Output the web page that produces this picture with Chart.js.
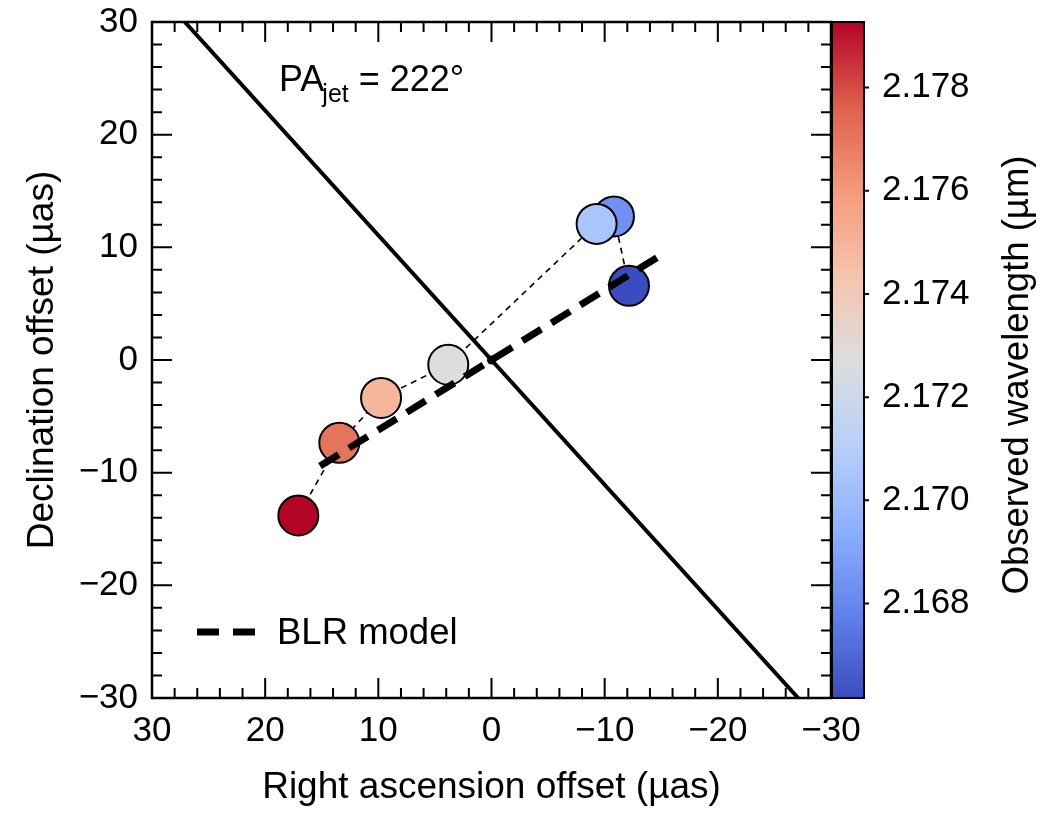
<!DOCTYPE html>
<html>
<head>
<meta charset="utf-8">
<script src="https://cdn.jsdelivr.net/npm/chart.js@4"></script>
<style>
  html, body { margin: 0; padding: 0; background: #fff; }
  #wrap { width: 1056px; height: 813px; position: relative; }
</style>
</head>
<body>
<div id="wrap"><canvas id="chart"></canvas></div>
<script>
// spectral channels, ordered blue -> red (red drawn last, on top)
const raOffset   = [-12.15, -10.82, -9.29, 3.82, 9.76, 13.45, 17.07];
const decOffset  = [6.58, 12.74, 12.08, -0.42, -3.37, -7.35, -13.8];
const wavelength = [2.16617, 2.16835, 2.17053, 2.17272, 2.17490, 2.17708, 2.17927];

// jet axis (PA 222 deg) and BLR model line
const jetRA  = [27.1, -27.1];
const jetDec = [30, -30];
const blrRA  = [15.15, -15.18];
const blrDec = [-9.41, 9.43];

const axisTicks = [-30, -20, -10, 0, 10, 20, 30];
const cbTicks = [2.168, 2.170, 2.172, 2.174, 2.176, 2.178];
const cbMin = 2.16617, cbMax = 2.17927;

const FONT = '"Liberation Sans", Arial, Helvetica, sans-serif';
Chart.defaults.font.family = FONT;
Chart.defaults.color = '#000';

// matplotlib coolwarm, sampled
const coolwarmStops = [
  [58, 76, 192], [98, 130, 234], [141, 176, 254], [184, 208, 249], [221, 221, 221],
  [245, 196, 173], [244, 154, 123], [222, 96, 77], [180, 4, 38]
];
function coolwarm(t) {
  t = Math.max(0, Math.min(1, t));
  const n = coolwarmStops.length - 1;
  const i = Math.min(n - 1, Math.floor(t * n));
  const f = t * n - i;
  const a = coolwarmStops[i], b = coolwarmStops[i + 1];
  const c = a.map((v, k) => Math.round(v + (b[k] - v) * f));
  return `rgb(${c[0]},${c[1]},${c[2]})`;
}

const toXY = (xs, ys) => xs.map((x, i) => ({ x, y: ys[i] }));
const minus = v => String(v).replace('-', '\u2212');
const fixBox = (w, h) => s => {
  if (w != null) s.width = w;
  if (h != null) s.height = h;
  s.paddingTop = s.paddingBottom = s.paddingLeft = s.paddingRight = 0;
};

// inward major/minor ticks on all four sides + frame
const framePlugin = {
  id: 'frame',
  afterDraw(chart) {
    const { ctx, chartArea: a, scales: { x, y } } = chart;
    ctx.save();
    ctx.strokeStyle = '#000';
    ctx.lineWidth = 2;
    ctx.beginPath();
    for (let v = -30; v <= 30; v += 2) {
      const len = v % 10 === 0 ? 20 : 10;
      const px = x.getPixelForValue(v);
      const py = y.getPixelForValue(v);
      ctx.moveTo(px, a.bottom); ctx.lineTo(px, a.bottom - len);
      ctx.moveTo(px, a.top);    ctx.lineTo(px, a.top + len);
      ctx.moveTo(a.left, py);   ctx.lineTo(a.left + len, py);
      ctx.moveTo(a.right, py);  ctx.lineTo(a.right - len, py);
    }
    ctx.stroke();
    ctx.lineWidth = 2.5;
    ctx.strokeRect(a.left, a.top, a.right - a.left, a.bottom - a.top);
    ctx.restore();
  }
};

// colorbar, PA label and legend
const extrasPlugin = {
  id: 'extras',
  afterDraw(chart) {
    const { ctx, chartArea: a, scales: { cb } } = chart;
    ctx.save();
    const x0 = a.right + 1, w = 32;
    const top = cb.getPixelForValue(cbMax), bot = cb.getPixelForValue(cbMin);
    const g = ctx.createLinearGradient(0, bot, 0, top);
    coolwarmStops.forEach((_, i) => {
      const t = i / (coolwarmStops.length - 1);
      g.addColorStop(t, coolwarm(t));
    });
    ctx.fillStyle = g;
    ctx.fillRect(x0, top, w, bot - top);
    ctx.strokeStyle = '#000';
    ctx.lineWidth = 2;
    ctx.strokeRect(x0, top, w, bot - top);
    ctx.beginPath();
    cbTicks.forEach(v => {
      const py = cb.getPixelForValue(v);
      ctx.moveTo(x0 + w, py); ctx.lineTo(x0 + w + 5, py);
    });
    ctx.stroke();

    // colorbar title, bottom-to-top
    ctx.fillStyle = '#000';
    ctx.font = `36.5px ${FONT}`;
    ctx.textAlign = 'center';
    ctx.textBaseline = 'middle';
    ctx.translate(1018, 375);
    ctx.rotate(-Math.PI / 2);
    ctx.fillText('Observed wavelength (\u00b5m)', 0, 0);
    ctx.setTransform(1, 0, 0, 1, 0, 0);

    // PA_jet label
    ctx.textAlign = 'left';
    ctx.textBaseline = 'alphabetic';
    ctx.font = `36px ${FONT}`;
    ctx.fillText('PA', 279, 91);
    let px = 279 + ctx.measureText('PA').width - 2;
    ctx.font = `25px ${FONT}`;
    ctx.fillText('jet', px, 102);
    px += ctx.measureText('jet').width;
    ctx.font = `36px ${FONT}`;
    ctx.fillText(' = 222\u00b0', px, 91);

    // legend
    ctx.lineWidth = 7;
    ctx.setLineDash([22, 14]);
    ctx.beginPath();
    ctx.moveTo(197, 632); ctx.lineTo(256, 632);
    ctx.stroke();
    ctx.setLineDash([]);
    ctx.textBaseline = 'middle';
    ctx.font = `36.5px ${FONT}`;
    ctx.fillText('BLR model', 277, 634);
    ctx.restore();
  }
};

new Chart(document.getElementById('chart'), {
  type: 'scatter',
  data: {
    datasets: [
      {
        label: 'BLR model',
        data: toXY(blrRA, blrDec),
        showLine: true, borderColor: '#000', borderWidth: 7, borderDash: [22, 12],
        pointRadius: 0, order: 0
      },
      {
        label: 'origin',
        data: [{ x: 0, y: 0 }],
        pointRadius: 4.5, backgroundColor: '#000', borderWidth: 0, order: 0
      },
      {
        label: 'channels',
        data: toXY(raOffset, decOffset),
        pointRadius: 20, borderWidth: 2, borderColor: '#000',
        backgroundColor: wavelength.map(w => coolwarm((w - cbMin) / (cbMax - cbMin))),
        order: 1
      },
      {
        label: 'jet',
        data: toXY(jetRA, jetDec),
        showLine: true, borderColor: '#000', borderWidth: 4, pointRadius: 0, order: 2
      },
      {
        label: 'path',
        data: toXY(raOffset, decOffset),
        showLine: true, borderColor: '#000', borderWidth: 1.6, borderDash: [6, 5],
        pointRadius: 0, order: 3
      }
    ]
  },
  options: {
    responsive: true,
    maintainAspectRatio: false,
    animation: false,
    layout: { padding: { top: 19 } },
    plugins: { legend: { display: false }, tooltip: { enabled: false } },
    scales: {
      x: {
        type: 'linear', min: -30, max: 30, reverse: true,
        grid: { display: false, drawTicks: false }, border: { display: false },
        afterBuildTicks: s => { s.ticks = axisTicks.map(v => ({ value: v })); },
        afterFit: fixBox(null, 115),
        ticks: { font: { size: 35 }, padding: 12, maxRotation: 0, callback: v => minus(v) },
        title: { display: true, text: 'Right ascension offset (\u00b5as)', font: { size: 37 }, padding: { bottom: 3 } }
      },
      y: {
        type: 'linear', min: -30, max: 30,
        grid: { display: false, drawTicks: false }, border: { display: false },
        afterBuildTicks: s => { s.ticks = axisTicks.map(v => ({ value: v })); },
        afterFit: fixBox(152, null),
        ticks: { font: { size: 35 }, padding: 14, callback: v => minus(v) },
        title: { display: true, text: 'Declination offset (\u00b5as)', font: { size: 37 }, padding: { top: 21 } }
      },
      cb: {
        type: 'linear', position: 'right', min: cbMin, max: cbMax,
        grid: { display: false, drawTicks: false }, border: { display: false },
        afterBuildTicks: s => { s.ticks = cbTicks.map(v => ({ value: v })); },
        afterFit: fixBox(225, null),
        ticks: { font: { size: 35 }, padding: 51, callback: v => v.toFixed(3) }
      }
    }
  },
  plugins: [framePlugin, extrasPlugin]
});
</script>
</body>
</html>
